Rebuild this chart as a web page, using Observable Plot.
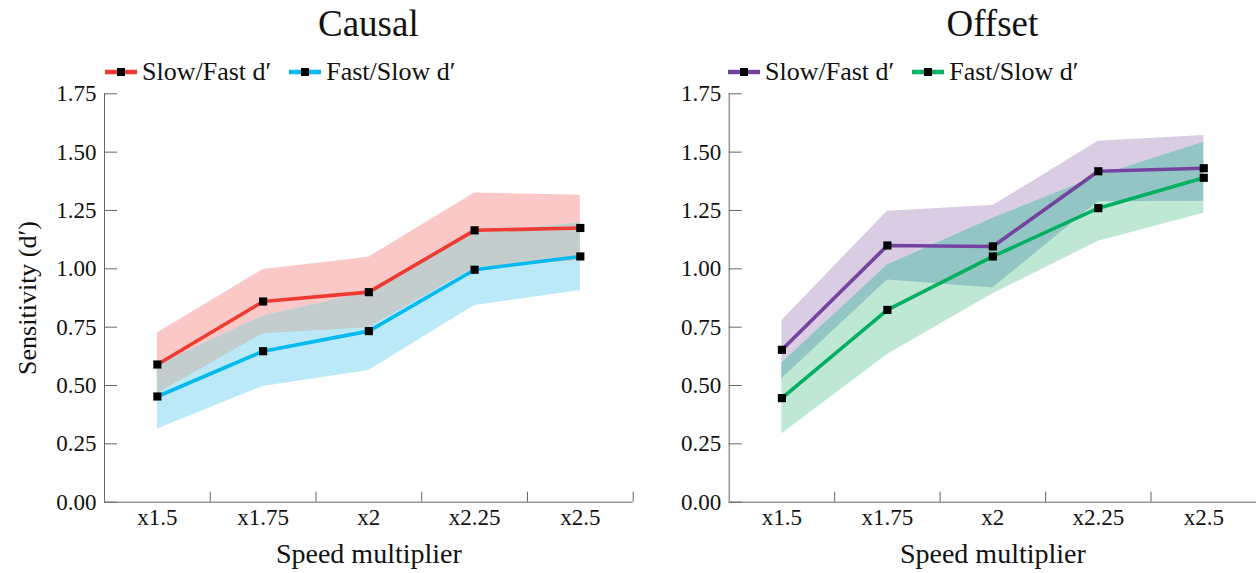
<!DOCTYPE html>
<html><head><meta charset="utf-8">
<script src="https://cdn.jsdelivr.net/npm/d3@7"></script>
<script src="https://cdn.jsdelivr.net/npm/@observablehq/plot@0.6"></script>
<style>
body{margin:0;background:#fff;font-family:"Liberation Serif",serif;color:#111;}
#root{position:relative;width:1256px;height:573px;overflow:hidden;background:#fff;}
.panel{position:absolute;top:0;height:573px;}
.panel svg text{font-family:"Liberation Serif",serif;}
.title{position:absolute;top:2px;font-size:37px;text-align:center;white-space:nowrap;}
.legend{position:absolute;top:57px;display:flex;gap:18px;font-size:26px;align-items:center;white-space:nowrap;}
.item{display:flex;align-items:center;gap:5px;}
.item svg{display:block;}
</style></head><body><div id="root"></div>
<script>
// ---- data ----
const categories = ["x1.5", "x1.75", "x2", "x2.25", "x2.5"];
const yTicks = [0, 0.25, 0.5, 0.75, 1.0, 1.25, 1.5, 1.75];

// Causal panel
const causalSlowFastMean = [0.590, 0.860, 0.900, 1.165, 1.175];
const causalSlowFastLow  = [0.465, 0.722, 0.748, 1.005, 1.035];
const causalSlowFastHigh = [0.725, 0.997, 1.050, 1.325, 1.315];
const causalFastSlowMean = [0.453, 0.647, 0.733, 0.996, 1.053];
const causalFastSlowLow  = [0.314, 0.496, 0.564, 0.843, 0.907];
const causalFastSlowHigh = [0.588, 0.798, 0.900, 1.150, 1.197];

// Offset panel
const offsetSlowFastMean = [0.653, 1.100, 1.096, 1.418, 1.431];
const offsetSlowFastLow  = [0.529, 0.952, 0.918, 1.287, 1.290];
const offsetSlowFastHigh = [0.779, 1.247, 1.271, 1.547, 1.571];
const offsetFastSlowMean = [0.446, 0.824, 1.053, 1.260, 1.390];
const offsetFastSlowLow  = [0.293, 0.633, 0.893, 1.118, 1.238];
const offsetFastSlowHigh = [0.597, 1.016, 1.217, 1.398, 1.542];

const seriesLabels = ["Slow/Fast d\u2032", "Fast/Slow d\u2032"];

const FONT = "Liberation Serif";

// ---- helpers ----
const pos = c => categories.indexOf(c) + 0.5;
function rowsOf(mean, low, high) {
  return categories.map((c, i) => ({cat: c, mean: mean[i], lo: low[i], hi: high[i]}));
}

function makePanel(cfg) {
  const marks = [];
  cfg.series.forEach(s => {
    marks.push(Plot.areaY(s.rows, {x: d => pos(d.cat), y1: "lo", y2: "hi", fill: s.band}));
  });
  marks.push(Plot.areaY(cfg.overlap.rows, {x: d => pos(d.cat), y1: "lo", y2: "hi", fill: cfg.overlap.color}));
  marks.push(Plot.ruleX([0], {x: d => d, y1: 0, y2: 1.75, stroke: "#666", strokeWidth: 1}));
  marks.push(Plot.ruleY([0], {y: d => d, stroke: "#666", strokeWidth: 1}));
  marks.push(Plot.axisY({ticks: yTicks, tickSize: -13, tickPadding: 21, tickFormat: d => d.toFixed(2),
    stroke: "#666", fill: "#111", fontSize: 23, fontFamily: FONT, label: null}));
  marks.push(Plot.axisX({ticks: [1, 2, 3, 4, 5], tickSize: -10, tickFormat: () => "", stroke: "#666", label: null}));
  marks.push(Plot.axisX({ticks: categories.map(pos), tickSize: 0, tickPadding: 6,
    tickFormat: d => categories[Math.round(d - 0.5)], fill: "#111", fontSize: 23, fontFamily: FONT, label: null}));
  cfg.series.forEach(s => {
    marks.push(Plot.line(s.rows, {x: d => pos(d.cat), y: "mean", stroke: s.color, strokeWidth: 3.6}));
  });
  cfg.series.forEach(s => {
    marks.push(Plot.dot(s.rows, {x: d => pos(d.cat), y: "mean", symbol: "square", fill: "#000", r: 4.6}));
  });
  marks.push(Plot.text(["Speed multiplier"], {text: d => d, frameAnchor: "bottom", textAnchor: "middle", lineAnchor: "middle",
    dy: 52, fontSize: 28, fontFamily: FONT, fill: "#111"}));
  if (cfg.yLabel) {
    marks.push(Plot.text([cfg.yLabel], {text: d => d, frameAnchor: "left", textAnchor: "middle", lineAnchor: "middle",
      rotate: -90, dx: -77, fontSize: 26, fontFamily: FONT, fill: "#111"}));
  }
  return Plot.plot({
    width: cfg.width,
    height: 573,
    marginTop: 93.3,
    marginBottom: 71.3,
    marginLeft: cfg.marginLeft,
    marginRight: cfg.marginRight,
    x: {type: "linear", domain: [0, categories.length]},
    y: {type: "linear", domain: [0, 1.75]},
    style: {fontFamily: FONT, background: "white", overflow: "visible", color: "#111"},
    marks
  });
}

function legendItem(color, label) {
  return `<div class="item"><svg width="32" height="12"><line x1="0" x2="32" y1="6" y2="6" stroke="${color}" stroke-width="4.5"/><rect x="12" y="2" width="8" height="8" fill="#000"/></svg><span>${label}</span></div>`;
}

const root = document.getElementById("root");
const panels = [
  {
    left: 0, width: 640, marginLeft: 104, marginRight: 7.3, title: "Causal", yLabel: "Sensitivity (d\u2032)",
    series: [
      {rows: rowsOf(causalSlowFastMean, causalSlowFastLow, causalSlowFastHigh), color: "#ee3a30", band: "#fac8c6"},
      {rows: rowsOf(causalFastSlowMean, causalFastSlowLow, causalFastSlowHigh), color: "#00b9ef", band: "#bce9f8"}
    ],
    overlap: {rows: rowsOf(causalSlowFastMean, causalSlowFastLow, causalFastSlowHigh), color: "#c4cdce"},
    legendLeft: 105
  },
  {
    left: 640, width: 616, marginLeft: 88.7, marginRight: 0, title: "Offset", yLabel: null,
    series: [
      {rows: rowsOf(offsetSlowFastMean, offsetSlowFastLow, offsetSlowFastHigh), color: "#7443a0", band: "#d9cce3"},
      {rows: rowsOf(offsetFastSlowMean, offsetFastSlowLow, offsetFastSlowHigh), color: "#00b060", band: "#bee8d4"}
    ],
    overlap: {rows: rowsOf(offsetSlowFastMean, offsetSlowFastLow, offsetFastSlowHigh), color: "#94c5c5"},
    legendLeft: 88
  }
];

panels.forEach(p => {
  const div = document.createElement("div");
  div.className = "panel";
  div.style.left = p.left + "px";
  div.style.width = p.width + "px";
  div.appendChild(makePanel(p));
  const t = document.createElement("div");
  t.className = "title";
  t.style.left = p.marginLeft + "px";
  t.style.width = (p.width - p.marginLeft - p.marginRight) + "px";
  t.textContent = p.title;
  div.appendChild(t);
  const lg = document.createElement("div");
  lg.className = "legend";
  lg.style.left = p.legendLeft + "px";
  lg.innerHTML = legendItem(p.series[0].color, seriesLabels[0]) + legendItem(p.series[1].color, seriesLabels[1]);
  div.appendChild(lg);
  root.appendChild(div);
});
</script>
</body></html>
